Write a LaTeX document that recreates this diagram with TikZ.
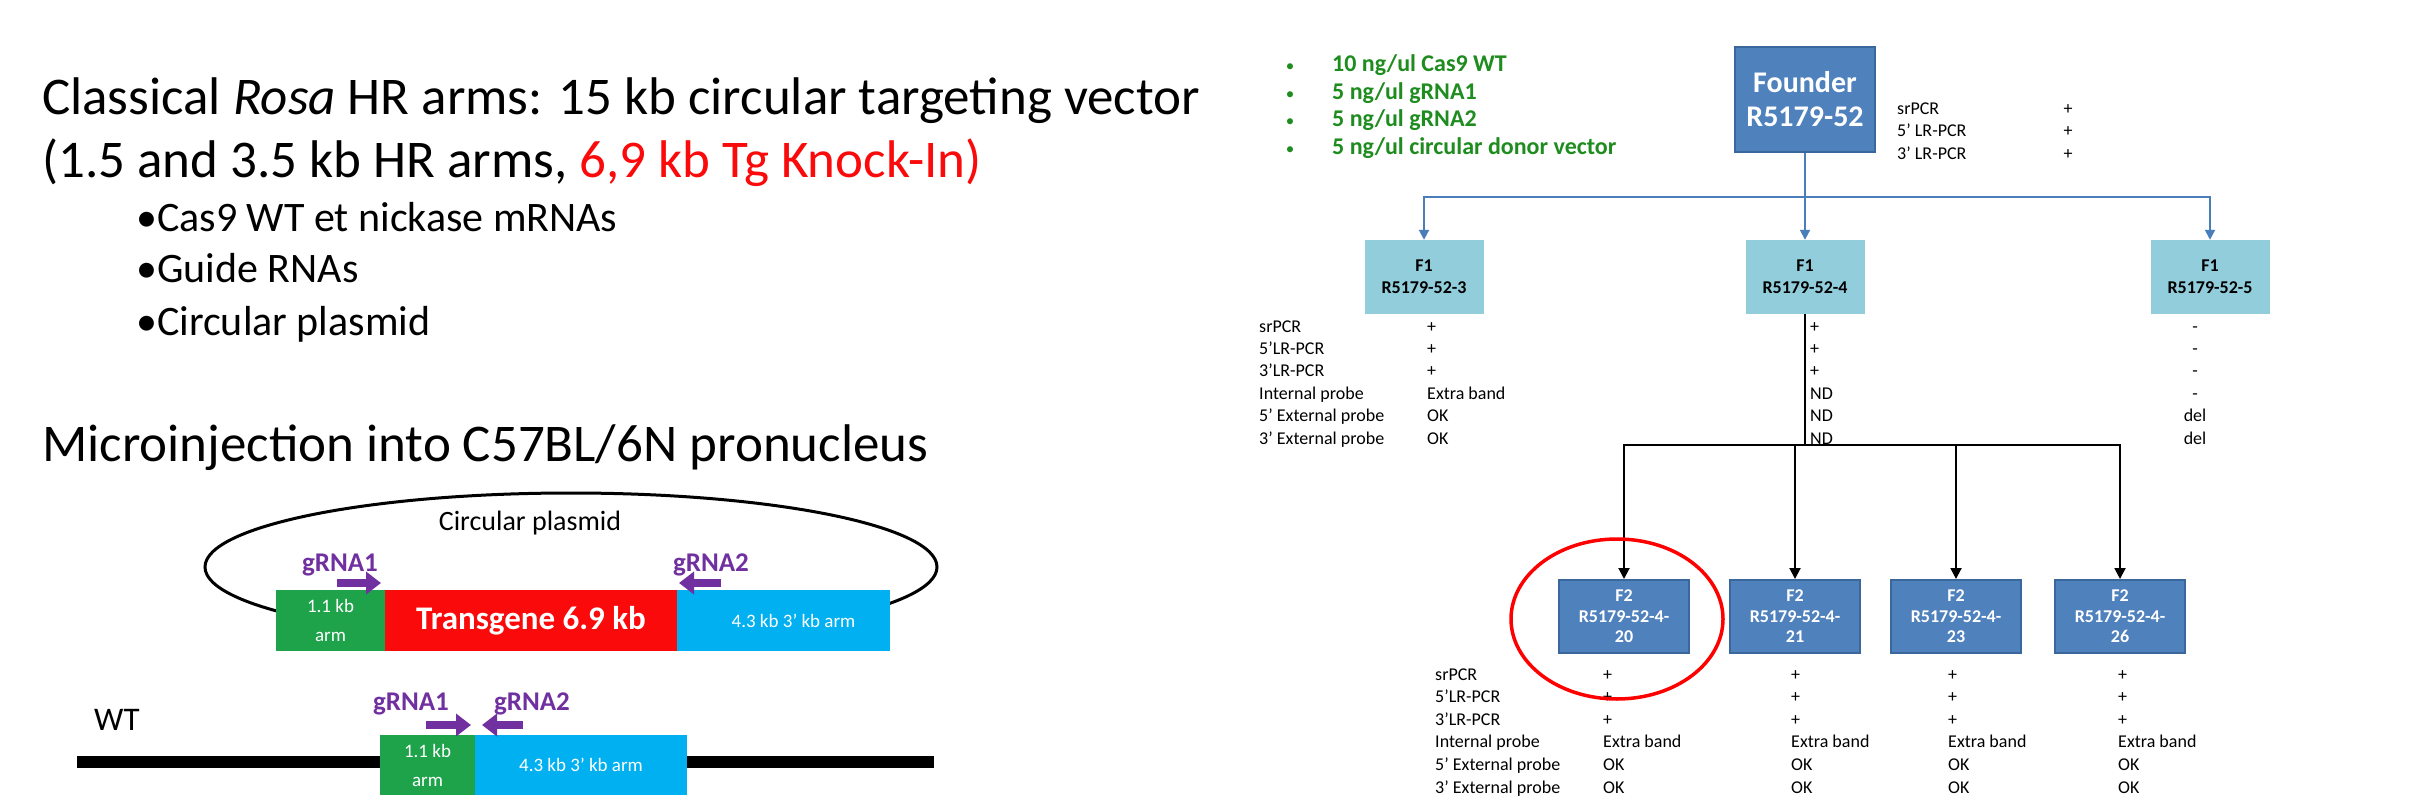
\documentclass[tikz,border=0pt]{standalone}
\usepackage{fontspec}
\setmainfont{Carlito}
\usetikzlibrary{arrows.meta}
\definecolor{founderblue}{HTML}{4F81BD}
\definecolor{founderedge}{HTML}{3A679C}
\definecolor{fonecyan}{HTML}{92CDDC}
\definecolor{linkblue}{HTML}{4A7EBB}
\definecolor{armgreen}{RGB}{30,163,75}
\definecolor{tgred}{RGB}{250,10,10}
\definecolor{armcyan}{HTML}{00B0F0}
\definecolor{gpurple}{HTML}{7030A0}
\definecolor{dosegreen}{RGB}{30,140,30}
\begin{document}
\begin{tikzpicture}[x=1pt,y=-1pt,
    headtext/.style={anchor=base west,inner sep=0,font=\fontsize{53}{60}\selectfont},
    itemtext/.style={anchor=base west,inner sep=0,font=\fontsize{42}{48}\selectfont},
    armtext/.style={inner sep=0,text=white,align=center,font=\fontsize{19}{29}\selectfont},
    guidetext/.style={anchor=base,inner sep=0,text=gpurple,font=\bfseries\fontsize{27}{30}\selectfont},
    cutarrow/.style={gpurple,line width=8pt,-{Triangle[length=15pt,width=22pt]}},
    dosetext/.style={anchor=base west,inner sep=0,text=dosegreen,font=\bfseries\fontsize{24}{26}\selectfont},
    founderbox/.style={draw=founderedge,line width=2pt,fill=founderblue,text=white,align=center,inner sep=0,
      minimum width=140pt,minimum height=105pt,font=\bfseries\fontsize{30}{34}\selectfont},
    fonebox/.style={fill=fonecyan,align=center,inner sep=0,minimum width=119pt,minimum height=74pt,
      font=\bfseries\fontsize{18}{22}\selectfont},
    ftwobox/.style={draw=founderedge,line width=2pt,fill=founderblue,text=white,align=center,inner sep=0,
      minimum width=130pt,minimum height=73pt,font=\bfseries\fontsize{18}{20.5}\selectfont},
    rowtext/.style={anchor=base west,inner sep=0,font=\fontsize{18}{21}\selectfont},
    bluelink/.style={draw=linkblue,line width=2pt},
    blacklink/.style={draw=black,line width=2pt},
  ]
  \path[use as bounding box,fill=white] (0,0) rectangle (2417,810);

  \node[headtext] (head1) at (42,115) {Classical \textit{Rosa} HR arms: 15 kb circular targeting vector};
  \node[headtext] (head2) at (42,178) {(1.5 and 3.5 kb HR arms, \textcolor{tgred}{6,9 kb Tg Knock-In)}};
  \node[itemtext] (item1) at (136,232) {•Cas9 WT et nickase mRNAs};
  \node[itemtext] (item2) at (136,283) {•Guide RNAs};
  \node[itemtext] (item3) at (136,335) {•Circular plasmid};
  \node[headtext] (head3) at (42,461) {Microinjection into C57BL/6N pronucleus};

  % donor vector
  \draw[line width=3pt] (571,567) ellipse [x radius=366pt,y radius=74pt];
  \node[inner sep=0,anchor=base,font=\fontsize{28}{30}\selectfont] (plasmid) at (530,530) {Circular plasmid};
  \node[armtext,fill=armgreen,minimum width=109pt,minimum height=61pt] (arm5) at (330.5,620.5) {1.1 kb\\arm};
  \node[armtext,fill=tgred,minimum width=292pt,minimum height=61pt,font=\bfseries\fontsize{33}{36}\selectfont] (tg) at (531,620.5) {Transgene 6.9 kb};
  \node[armtext,fill=armcyan,minimum width=213pt,minimum height=61pt] (arm3) at (783.5,620.5) {\hspace{20pt}4.3 kb 3’ kb arm};
  \node[guidetext] (g1) at (340,571) {gRNA1};
  \node[guidetext] (g2) at (711,571) {gRNA2};
  \draw[cutarrow] (337,583) -- (381,583);
  \draw[cutarrow] (721,583) -- (679,583);

  % wild type
  \node[inner sep=0,anchor=base west,font=\fontsize{33}{36}\selectfont] (wt) at (94,730) {WT};
  \draw[line width=12pt] (77,762) -- (934,762);
  \node[armtext,fill=armgreen,minimum width=95pt,minimum height=60pt] (wtarm5) at (427.5,765) {1.1 kb\\arm};
  \node[armtext,fill=armcyan,minimum width=212pt,minimum height=60pt] (wtarm3) at (581,765) {4.3 kb 3’ kb arm};
  \node[guidetext] (wtg1) at (411,710) {gRNA1};
  \node[guidetext] (wtg2) at (532,710) {gRNA2};
  \draw[cutarrow] (426,725) -- (471,725);
  \draw[cutarrow] (523,725) -- (482,725);

  % injection mix
  \foreach \t [count=\i] in {10 ng/ul Cas9 WT,5 ng/ul gRNA1,5 ng/ul gRNA2,5 ng/ul circular donor vector}{
    \node[dosetext,anchor=base,font=\fontsize{17}{20}\selectfont] (dot\i) at (1290,{44.5+27.5*\i}) {•};
    \node[dosetext] (dose\i) at (1332,{44.5+27.5*\i}) {\t};
  }

  % pedigree
  \node[founderbox] (founder) at (1805,99.5) {Founder\\R5179-52};
  \foreach \lab/\val [count=\i] in {srPCR/+,5’ LR-PCR/+,3’ LR-PCR/+}{
    \node[rowtext] (fl\i) at (1897,{92+22.5*\i}) {\lab};
    \node[rowtext,anchor=base] (fv\i) at (2068,{92+22.5*\i}) {\val};
  }

  \node[fonebox] (f1a) at (1424,277) {F1\\R5179-52-3};
  \node[fonebox] (f1b) at (1805,277) {F1\\R5179-52-4};
  \node[fonebox] (f1c) at (2210,277) {F1\\R5179-52-5};

  \path (founder.south) ++(0,44) coordinate (split);
  \draw[bluelink] (founder.south) -- (split);
  \draw[bluelink,-{Triangle[length=10pt,width=10pt]}] (split) -- (f1b.north);
  \draw[bluelink,-{Triangle[length=10pt,width=10pt]}] (split) -| (f1a.north);
  \draw[bluelink,-{Triangle[length=10pt,width=10pt]}] (split) -| (f1c.north);

  \foreach \lab/\va/\vb/\vc [count=\i] in {srPCR/+/+/-,5’LR-PCR/+/+/-,3’LR-PCR/+/+/-,
      Internal probe/Extra band/ND/-,5’ External probe/OK/ND/del,3’ External probe/OK/ND/del}{
    \node[rowtext] (al\i) at (1259,{309.6+22.4*\i}) {\lab};
    \node[rowtext] (aa\i) at (1427,{309.6+22.4*\i}) {\va};
    \node[rowtext] (ab\i) at (1810,{309.6+22.4*\i}) {\vb};
    \node[rowtext,anchor=base] (ac\i) at (2195,{309.6+22.4*\i}) {\vc};
  }

  \node[ftwobox] (f2a) at (1624,616.5) {F2\\R5179-52-4-\\20};
  \node[ftwobox] (f2b) at (1795,616.5) {F2\\R5179-52-4-\\21};
  \node[ftwobox] (f2c) at (1956,616.5) {F2\\R5179-52-4-\\23};
  \node[ftwobox] (f2d) at (2120,616.5) {F2\\R5179-52-4-\\26};

  \path (f1b.south) ++(0,131) coordinate (fork);
  \draw[blacklink] (f1b.south) -- (fork);
  \foreach \f in {f2a,f2b,f2c,f2d}
    \draw[blacklink,-{Triangle[length=11pt,width=11pt]}] (fork) -| (\f.north);

  \foreach \lab/\val [count=\i] in {srPCR/+,5’LR-PCR/+,3’LR-PCR/+,
      Internal probe/Extra band,5’ External probe/OK,3’ External probe/OK}{
    \node[rowtext] (bl\i) at (1435,{657.4+22.6*\i}) {\lab};
    \node[rowtext] (ba\i) at (1603,{657.4+22.6*\i}) {\val};
    \node[rowtext] (bb\i) at (1791,{657.4+22.6*\i}) {\val};
    \node[rowtext] (bc\i) at (1948,{657.4+22.6*\i}) {\val};
    \node[rowtext] (bd\i) at (2118,{657.4+22.6*\i}) {\val};
  }

  \draw[red,line width=3.5pt] (1617,619) ellipse [x radius=106pt,y radius=80pt];
\end{tikzpicture}
\end{document}
